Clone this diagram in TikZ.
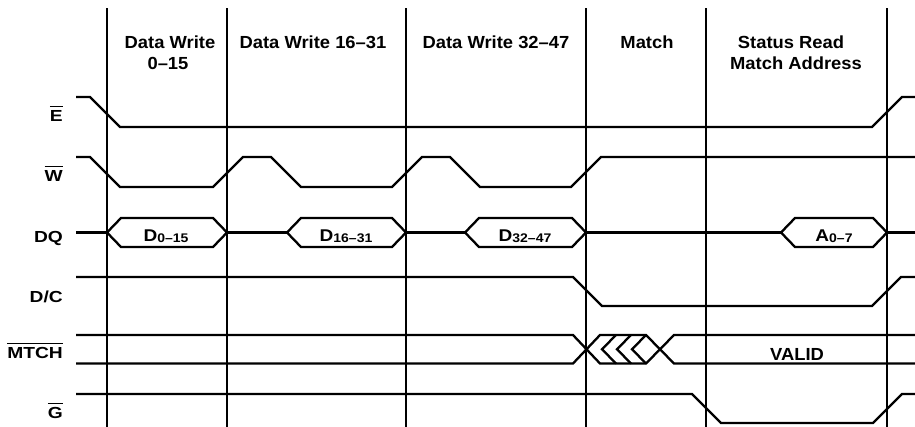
\documentclass[tikz,border=0pt]{standalone}
\usepackage{fontspec}
\setmainfont{Liberation Sans}[FakeStretch=1.05]
\newfontfamily\labfont{Liberation Sans}[FakeStretch=1.2]
\newfontfamily\hexfont{Liberation Sans}[FakeStretch=1.12]
\newcommand\ovl[1]{\vbox{\hrule height 1.6pt\kern 2.5pt\hbox{#1}}}
\tikzset{
  gridline/.style={line width=2.6pt},
  sig/.style={line width=2.3pt, line join=miter},
  head/.style={font=\fontsize{17.5}{21}\selectfont\bfseries, anchor=base, inner sep=0pt},
  lab/.style={font=\labfont\fontsize{16}{18}\selectfont\bfseries, anchor=base east, inner sep=0pt},
  hexlab/.style={font=\hexfont\fontsize{17}{20}\selectfont\bfseries, anchor=base, inner sep=0pt},
}
\newcommand\sbs[1]{\raisebox{-1.5pt}{\fontsize{12.5}{13}\selectfont #1}}
\begin{document}
\begin{tikzpicture}[x=1pt,y=-1pt]
\useasboundingbox (0,0) rectangle (915,426);
% column separators
\foreach \x in {107,227,406,586,706,887}
  \draw[gridline] (\x,8) -- (\x,430);
% headers
\node[head] (h1a) at (170,48) {Data Write};
\node[head] (h1b) at (168,69) {0–15};
\node[head] (h2) at (313,48) {Data Write 16–31};
\node[head] (h3) at (496,48) {Data Write 32–47};
\node[head] (h4) at (647,48) {Match};
\node[head] (h5a) at (791,48) {Status Read};
\node[head] (h5b) at (796,69) {Match Address};
% signal labels
\node[lab] (lE) at (63,121) {\ovl{E}};
\node[lab] (lW) at (63,181) {\ovl{W}};
\node[lab] (lDQ) at (63,242) {DQ};
\node[lab] (lDC) at (63,302) {D/C};
\node[lab] (lM) at (63,358) {\ovl{MTCH}};
\node[lab] (lG) at (63,418) {\ovl{G}};
% E
\draw[sig] (76,97) -- (90,97) -- (120,127) -- (872,127) -- (902,97) -- (915,97);
% W
\draw[sig] (76,157) -- (90,157) -- (120,187) -- (213,187) -- (243,157) -- (271,157)
  -- (301,187) -- (392,187) -- (422,157) -- (450,157) -- (480,187) -- (571,187)
  -- (601,157) -- (915,157);
% DQ
\draw[sig] (76,232.5) -- (107,232.5);
\draw[sig] (227,232.5) -- (287,232.5);
\draw[sig] (406,232.5) -- (465,232.5);
\draw[sig] (586,232.5) -- (781,232.5);
\draw[sig] (887,232.5) -- (915,232.5);
\foreach \L/\R in {107/227, 287/406, 465/586, 781/887}
  \draw[sig] (\L,232.5) -- (\L+14,218) -- (\R-14,218) -- (\R,232.5) -- (\R-14,247) -- (\L+14,247) -- cycle;
\node[hexlab] (d1) at (166,241) {D\sbs{0–15}};
\node[hexlab] (d2) at (346,241) {D\sbs{16–31}};
\node[hexlab] (d3) at (525,241) {D\sbs{32–47}};
\node[hexlab] (d4) at (834,241) {A\sbs{0–7}};
% D/C
\draw[sig] (76,277) -- (573,277) -- (602,306) -- (872,306) -- (901,277) -- (915,277);
% MTCH
\draw[sig] (76,335) -- (573,335) -- (600,363.5) -- (646,363.5) -- (674,335) -- (915,335);
\draw[sig] (76,363.5) -- (573,363.5) -- (600,335) -- (646,335) -- (674,363.5) -- (915,363.5);
\foreach \a in {602,617,632}
  \draw[sig] (\a+14,335) -- (\a,349.25) -- (\a+14,363.5);
\node[head] (valid) at (797,360) {VALID};
% G
\draw[sig] (76,394) -- (692,394) -- (721,423) -- (873,423) -- (902,394) -- (915,394);
\end{tikzpicture}
\end{document}
